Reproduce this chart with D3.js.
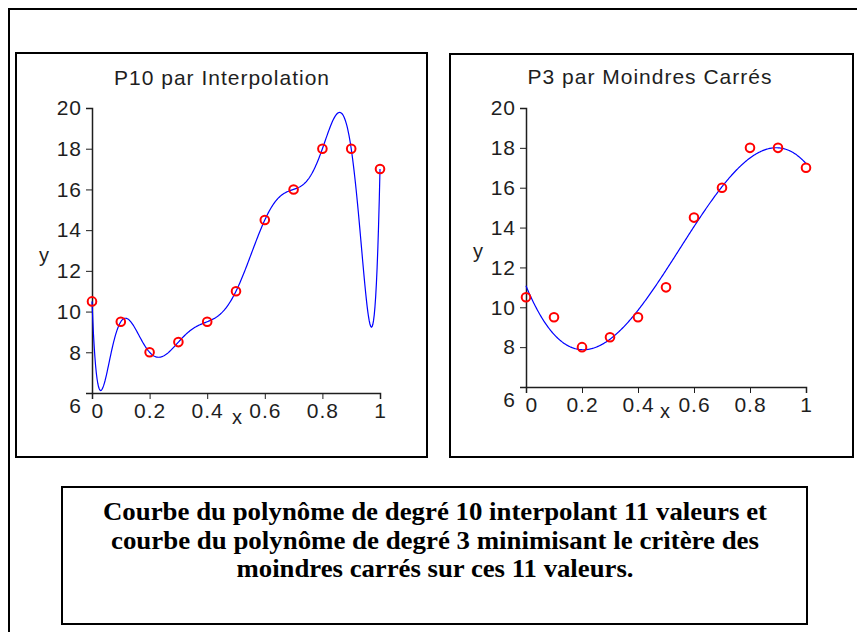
<!DOCTYPE html>
<html>
<head>
<meta charset="utf-8">
<script src="https://cdn.jsdelivr.net/npm/d3@7"></script>
<style>
  html, body { margin: 0; padding: 0; background: #fff; }
  svg { display: block; }
</style>
</head>
<body>
<svg id="fig" width="857" height="632"></svg>
<script>
// Measured values: 11 equally spaced abscissae and their ordinates
const xValues = [0, 0.1, 0.2, 0.3, 0.4, 0.5, 0.6, 0.7, 0.8, 0.9, 1];
const yValues = [10.5, 9.5, 8, 8.5, 9.5, 11, 14.5, 16, 18, 18, 17];

const xTicks = [0, 0.2, 0.4, 0.6, 0.8, 1];
const xTickLabels = ["0", "0.2", "0.4", "0.6", "0.8", "1"];
const yTicks = [6, 8, 10, 12, 14, 16, 18, 20];
const yTickLabels = ["6", "8", "10", "12", "14", "16", "18", "20"];

const panelTitles = ["P10 par Interpolation", "P3 par Moindres Carrés"];
const captionLines = [
  "Courbe du polynôme de degré 10 interpolant 11 valeurs et",
  "courbe du polynôme de degré 3 minimisant le critère des",
  "moindres carrés sur ces 11 valeurs."
];
const captionWidths = [664, 648, 397];

// Lagrange interpolating polynomial through all points (degree 10)
function lagrange(xs, ys) {
  return x => {
    let s = 0;
    for (let i = 0; i < xs.length; i++) {
      let l = 1;
      for (let j = 0; j < xs.length; j++) if (j !== i) l *= (x - xs[j]) / (xs[i] - xs[j]);
      s += ys[i] * l;
    }
    return s;
  };
}

// Least-squares polynomial of given degree (normal equations, Gauss-Jordan)
function leastSquares(xs, ys, deg) {
  const n = deg + 1;
  const A = Array.from({length: n}, () => new Array(n + 1).fill(0));
  for (let r = 0; r < n; r++) {
    for (let c = 0; c < n; c++) A[r][c] = d3.sum(xs, x => Math.pow(x, r + c));
    A[r][n] = d3.sum(xs, (x, k) => ys[k] * Math.pow(x, r));
  }
  for (let p = 0; p < n; p++) {
    let m = p;
    for (let r = p + 1; r < n; r++) if (Math.abs(A[r][p]) > Math.abs(A[m][p])) m = r;
    [A[p], A[m]] = [A[m], A[p]];
    for (let r = 0; r < n; r++) {
      if (r === p) continue;
      const f = A[r][p] / A[p][p];
      for (let c = p; c <= n; c++) A[r][c] -= f * A[p][c];
    }
  }
  const coef = A.map((row, i) => row[n] / row[i]);
  return x => coef.reduce((s, a, i) => s + a * Math.pow(x, i), 0);
}

const svg = d3.select("#fig");
const font = "'Liberation Sans', Arial, sans-serif";
const ink = "#1e1e1e";

// Outer page frame (runs off the right and bottom edges)
svg.append("rect")
  .attr("x", 9).attr("y", 9).attr("width", 900).attr("height", 700)
  .attr("fill", "none").attr("stroke", "#000").attr("stroke-width", 2);

const panels = [
  { box: [16, 53, 411, 404], xr: [92, 380], yr: [393, 108], f: lagrange(xValues, yValues),
    titleX: 222, titleY: 85, yLab: [44, 262], xLab: [237, 424] },
  { box: [450, 54, 403, 403], xr: [526, 806], yr: [387, 108], f: leastSquares(xValues, yValues, 3),
    titleX: 650, titleY: 84, yLab: [478, 258], xLab: [665, 418] }
];

panels.forEach((p, idx) => {
  const g = svg.append("g");
  g.append("rect")
    .attr("x", p.box[0]).attr("y", p.box[1]).attr("width", p.box[2]).attr("height", p.box[3])
    .attr("fill", "#fff").attr("stroke", "#000").attr("stroke-width", 2);

  const x = d3.scaleLinear().domain([0, 1]).range(p.xr);
  const y = d3.scaleLinear().domain([6, 20]).range(p.yr);

  g.append("text")
    .attr("x", p.titleX).attr("y", p.titleY)
    .attr("text-anchor", "middle")
    .attr("font-family", font).attr("font-size", 21)
    .attr("letter-spacing", 1)
    .attr("fill", ink)
    .text(panelTitles[idx]);

  // minor ticks
  const xMinor = d3.range(0, 1.0001, 0.04).map(v => +v.toFixed(2));
  const yMinor = d3.range(6, 20.0001, 0.25);
  const axX = g.append("g").attr("transform", `translate(0,${p.yr[0]})`);
  axX.call(d3.axisBottom(x).tickValues(xMinor).tickSize(3).tickFormat(""))
    .call(s => s.select(".domain").remove());
  axX.call(d3.axisBottom(x).tickValues(xTicks).tickSize(6)
      .tickFormat((d, i) => xTickLabels[i]).tickPadding(4))
    .call(s => s.selectAll(".domain").attr("stroke-width", 1.5));
  const axY = g.append("g").attr("transform", `translate(${p.xr[0]},0)`);
  axY.call(d3.axisLeft(y).tickValues(yMinor).tickSize(3).tickFormat(""))
    .call(s => s.select(".domain").remove());
  axY.call(d3.axisLeft(y).tickValues(yTicks).tickSize(6)
      .tickFormat((d, i) => yTickLabels[i]).tickPadding(4))
    .call(s => s.selectAll(".domain").attr("stroke-width", 1.5));

  [axX, axY].forEach(a => {
    a.selectAll("text").attr("font-family", font).attr("font-size", 21)
      .attr("letter-spacing", 1).attr("fill", ink);
    a.selectAll("line").attr("stroke", ink);
    a.selectAll(".domain").attr("stroke", ink);
  });
  // the origin labels are nudged off the corner
  axY.selectAll(".tick").filter(d => d === 6).select("text").attr("dy", "0.95em");
  axX.selectAll(".tick").filter(d => d === 0).select("text").attr("dx", "0.25em");

  g.append("text").attr("x", p.yLab[0]).attr("y", p.yLab[1])
    .attr("text-anchor", "middle").attr("font-family", font).attr("font-size", 20)
    .attr("fill", ink).text("y");
  g.append("text").attr("x", p.xLab[0]).attr("y", p.xLab[1])
    .attr("text-anchor", "middle").attr("font-family", font).attr("font-size", 20)
    .attr("fill", ink).text("x");

  // polynomial curve
  const samples = d3.range(0, 1.00001, 0.0025);
  g.append("path")
    .datum(samples)
    .attr("fill", "none").attr("stroke", "#0000ff").attr("stroke-width", 1.2)
    .attr("d", d3.line().x(d => x(d)).y(d => y(p.f(d))));

  // data points
  g.selectAll("circle.pt")
    .data(xValues.map((v, i) => [v, yValues[i]]))
    .join("circle")
    .attr("class", "pt")
    .attr("cx", d => x(d[0])).attr("cy", d => y(d[1]))
    .attr("r", 4.3).attr("fill", "none")
    .attr("stroke", "#ff0000").attr("stroke-width", 2);
});

// caption box
svg.append("rect")
  .attr("x", 62).attr("y", 487).attr("width", 745).attr("height", 137)
  .attr("fill", "#fff").attr("stroke", "#000").attr("stroke-width", 2);

svg.append("g").selectAll("text")
  .data(captionLines)
  .join("text")
  .attr("x", 435)
  .attr("y", (d, i) => 520 + i * 28.5)
  .attr("text-anchor", "middle")
  .attr("font-family", "'Liberation Serif', 'Times New Roman', serif")
  .attr("font-weight", "bold")
  .attr("font-size", 25)
  .attr("textLength", (d, i) => captionWidths[i])
  .attr("lengthAdjust", "spacingAndGlyphs")
  .attr("fill", "#000")
  .text(d => d);
</script>
</body>
</html>
